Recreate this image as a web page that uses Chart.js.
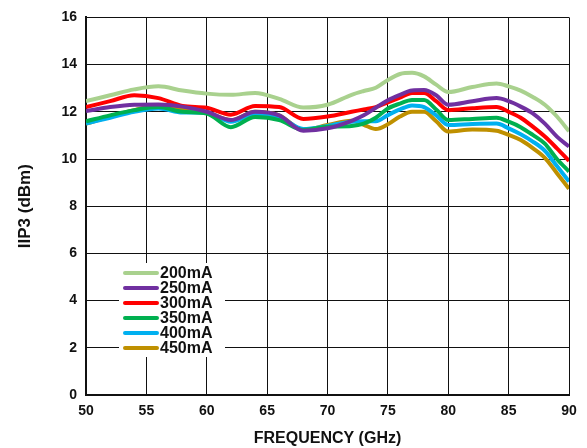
<!DOCTYPE html>
<html>
<head>
<meta charset="utf-8">
<script src="https://cdn.jsdelivr.net/npm/chart.js@4.4.1/dist/chart.umd.min.js"></script>
<style>
  html, body { margin: 0; padding: 0; background: #fff; }
  #wrap { width: 587px; height: 448px; }
</style>
</head>
<body>
<div id="wrap"><canvas id="myChart"></canvas></div>
<script>
// frequency points (GHz)
var freq = [50, 52, 54, 56, 58, 60, 62, 64, 66, 68, 70, 72, 73, 74, 75, 76, 77, 78, 79, 80, 82, 84, 85, 86, 87, 88, 89, 90];

// IIP3 (dBm) per bias current
var iip3_200 = [12.45, 12.7, 12.95, 13.08, 12.9, 12.77, 12.72, 12.8, 12.55, 12.18, 12.3, 12.72, 12.88, 13.02, 13.35, 13.6, 13.65, 13.5, 13.15, 12.84, 13.05, 13.2, 13.08, 12.9, 12.63, 12.3, 11.8, 11.18];
var iip3_250 = [12.03, 12.2, 12.3, 12.31, 12.22, 12.0, 11.65, 12.0, 11.85, 11.2, 11.3, 11.62, 11.85, 12.17, 12.49, 12.72, 12.9, 12.92, 12.7, 12.3, 12.45, 12.58, 12.45, 12.22, 11.93, 11.5, 10.95, 10.53];
var iip3_300 = [12.2, 12.45, 12.7, 12.58, 12.25, 12.17, 11.88, 12.25, 12.2, 11.7, 11.8, 12.0, 12.1, 12.2, 12.4, 12.6, 12.8, 12.8, 12.45, 12.07, 12.15, 12.2, 12.0, 11.75, 11.37, 10.95, 10.45, 9.92];
var iip3_350 = [11.6, 11.85, 12.07, 12.2, 12.0, 11.93, 11.35, 11.78, 11.65, 11.23, 11.37, 11.4, 11.5, 11.75, 12.14, 12.35, 12.5, 12.5, 12.1, 11.65, 11.7, 11.75, 11.58, 11.35, 11.02, 10.65, 10.0, 9.47];
var iip3_400 = [11.5, 11.75, 12.0, 12.14, 11.97, 11.96, 11.58, 11.88, 11.78, 11.27, 11.4, 11.58, 11.6, 11.6, 11.86, 12.1, 12.27, 12.2, 11.85, 11.44, 11.48, 11.5, 11.3, 11.05, 10.74, 10.35, 9.7, 9.05];
var iip3_450 = [11.5, 11.8, 12.07, 12.28, 12.12, 11.98, 11.65, 12.0, 11.85, 11.23, 11.44, 11.62, 11.45, 11.27, 11.47, 11.8, 12.0, 12.0, 11.6, 11.16, 11.25, 11.2, 11.02, 10.8, 10.46, 10.05, 9.4, 8.74];

var seriesLabels = ['200mA', '250mA', '300mA', '350mA', '400mA', '450mA'];
var seriesColors = ['#a9d18e', '#7030a0', '#ff0000', '#00b050', '#00b0f0', '#bf9000'];
var seriesData = [iip3_200, iip3_250, iip3_300, iip3_350, iip3_400, iip3_450];

var FONT = '"Liberation Sans", Arial, sans-serif';

function toPoints(ys) {
    return freq.map(function (x, i) { return {x: x, y: ys[i]}; });
}

// legend drawn inside the plot, lower left, on a white patch
var innerLegend = {
    id: 'innerLegend',
    afterDatasetsDraw: function (chart) {
        var c = chart.ctx;
        var left = chart.chartArea.left;
        var bottom = chart.chartArea.bottom;
        var x0 = left + 37, y0 = bottom - 122, rowH = 15;
        c.save();
        c.fillStyle = '#fff';
        c.fillRect(x0 - 4, y0 - 10, 106, rowH * 6 + 4);
        c.font = 'bold 16px ' + FONT;
        c.textBaseline = 'middle';
        chart.data.datasets.forEach(function (ds, i) {
            var y = y0 + i * rowH;
            c.strokeStyle = ds.borderColor;
            c.lineWidth = 4;
            c.lineCap = 'round';
            c.beginPath();
            c.moveTo(x0 + 2, y);
            c.lineTo(x0 + 34, y);
            c.stroke();
            c.fillStyle = '#111';
            c.fillText(ds.label, x0 + 37, y + 1);
        });
        c.restore();
    }
};

var ctx = document.getElementById('myChart').getContext('2d');
var myChart = new Chart(ctx, {
    type: 'line',
    data: {
        datasets: seriesLabels.map(function (lab, i) {
            return {
                label: lab,
                data: toPoints(seriesData[i]),
                borderColor: seriesColors[i],
                borderWidth: 4,
                pointRadius: 0,
                tension: 0.4,
                cubicInterpolationMode: 'monotone',
                fill: false
            };
        })
    },
    options: {
        responsive: true,
        maintainAspectRatio: false,
        animation: false,
        layout: { padding: { top: 15, right: 18, left: 0, bottom: 0 } },
        plugins: {
            legend: { display: false },
            tooltip: { enabled: false }
        },
        scales: {
            x: {
                type: 'linear',
                min: 50,
                max: 90,
                afterFit: function (s) { s.height = 53; },
                ticks: {
                    stepSize: 5,
                    padding: 8,
                    maxRotation: 0,
                    color: '#111',
                    font: { family: FONT, size: 14, weight: 'bold' }
                },
                grid: { color: '#111', lineWidth: 1, drawTicks: false },
                border: { color: '#111', width: 2 },
                title: {
                    display: true,
                    text: 'FREQUENCY (GHz)',
                    color: '#111',
                    padding: { top: 2, bottom: 0 },
                    font: { family: FONT, size: 16, weight: 'bold' }
                }
            },
            y: {
                min: 0,
                max: 16,
                afterFit: function (s) { s.width = 86; },
                ticks: {
                    stepSize: 2,
                    padding: 9,
                    color: '#111',
                    font: { family: FONT, size: 14, weight: 'bold' }
                },
                grid: { color: '#111', lineWidth: 1, drawTicks: false },
                border: { color: '#111', width: 2 },
                title: {
                    display: true,
                    text: 'IIP3 (dBm)',
                    color: '#111',
                    padding: { top: 15, bottom: 0 },
                    font: { family: FONT, size: 17, weight: 'bold' }
                }
            }
        }
    },
    plugins: [innerLegend]
});
</script>
</body>
</html>
